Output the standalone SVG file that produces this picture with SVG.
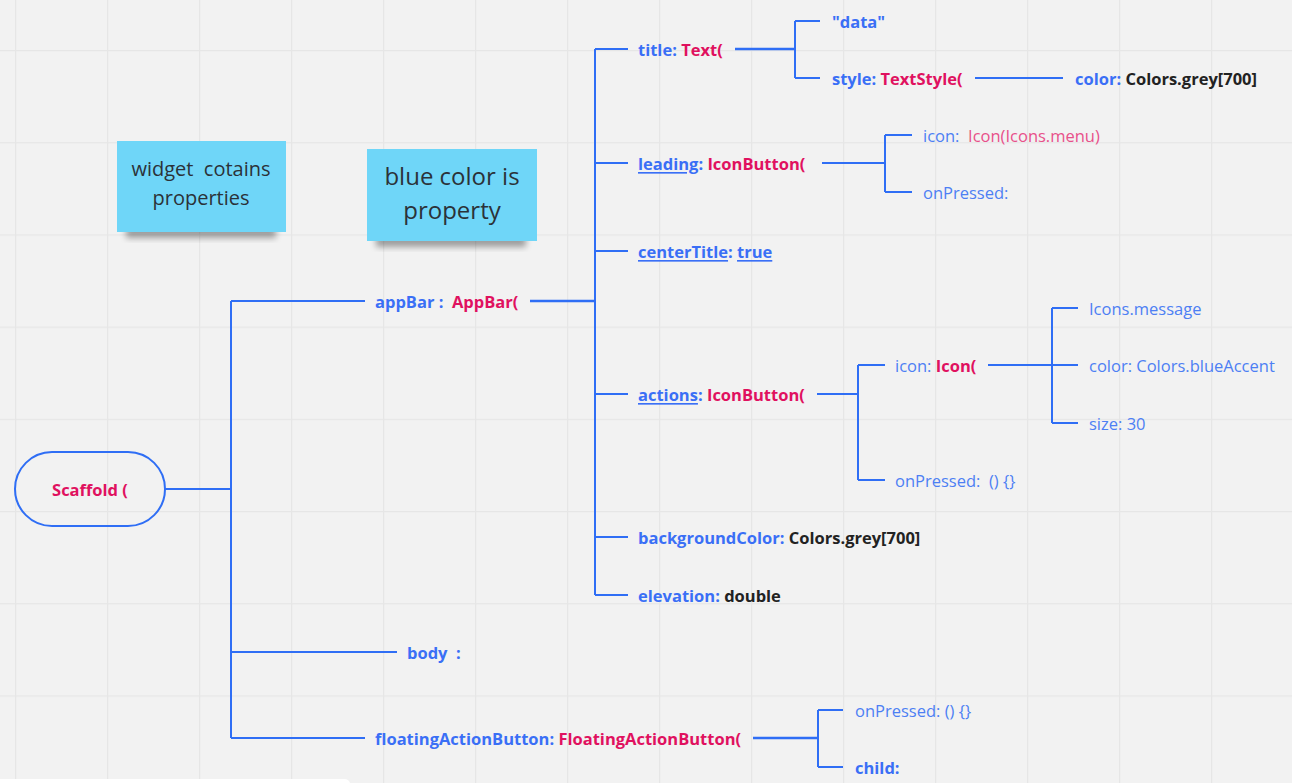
<svg xmlns="http://www.w3.org/2000/svg" width="1292" height="783" viewBox="0 0 1292 783">
<defs>
<pattern id="grid" x="15" y="50" width="92" height="92.2" patternUnits="userSpaceOnUse">
<path d="M0.5 0V92.2M0 0.5H92" stroke="#e6e6e6" stroke-width="1.5" fill="none"/>
</pattern>
<filter id="shadow" x="-20%" y="-20%" width="140%" height="160%">
<feGaussianBlur stdDeviation="3"/>
</filter>
</defs>
<style>
.bg{fill:#f2f2f2}
.ln{stroke:#2f6ef5;stroke-width:2;fill:none}
.lt{stroke:#2f6ef5;stroke-width:2.5;fill:none}
text{font-family:"Open Sans","Noto Sans","Liberation Sans",sans-serif;font-size:16.5px;dominant-baseline:central;white-space:pre}
.b{font-weight:700}
.blue{fill:#3a6ff6}
.pink{fill:#e0115f}
.lpink{fill:#e8508a}
.lblue{fill:#4d7ff4}
.blk{fill:#222}
.u{text-decoration:underline}
.note{fill:#6fd6f8}
.ntxt{fill:#2b3238;text-anchor:middle}
.n1{font-size:20px}
.n2{font-size:24px}
</style>
<rect class="bg" width="1292" height="783"/>
<rect fill="url(#grid)" width="1292" height="783"/>
<path d="M0 779H344a6 6 0 0 1 6 4H0Z" fill="#ffffff"/>

<g id="note-widget">
<rect x="126" y="226" width="150" height="12" fill="#000" opacity="0.35" filter="url(#shadow)"/>
<rect class="note" x="117" y="141" width="169" height="91"/>
<text class="ntxt n1" x="201" y="168">widget  cotains</text>
<text class="ntxt n1" x="201" y="197">properties</text>
</g>
<g id="note-blue">
<rect x="376" y="235" width="150" height="12" fill="#000" opacity="0.35" filter="url(#shadow)"/>
<rect class="note" x="367" y="149" width="170" height="92"/>
<text class="ntxt n2" x="452" y="175">blue color is</text>
<text class="ntxt n2" x="452" y="209">property</text>
</g>

<g id="connectors">
<path class="ln" d="M165 489H231M231 301V738M231 301H365M231 652H397M231 738H365"/>
<path class="lt" d="M530 301H595"/>
<path class="ln" d="M595 49V595M595 49H628M595 163H628M595 251H628M595 394H628M595 537H628M595 595H628"/>
<path class="lt" d="M735 49H795"/>
<path class="ln" d="M795 21V78M795 21H820M795 78H820"/>
<path class="ln" d="M975 78H1063"/>
<path class="ln" d="M822 163H885M885 135V192M885 135H912M885 192H912"/>
<path class="ln" d="M817 394H858M858 365V480M858 365H885M858 480H885"/>
<path class="ln" d="M988 365H1052M1052 308V423M1052 308H1078M1052 365H1078M1052 423H1078"/>
<path class="lt" d="M753 738H818"/>
<path class="ln" d="M818 710V767M818 710H843M818 767H843"/>
</g>

<g id="scaffold">
<rect x="15" y="452" width="150" height="74" rx="37" fill="none" stroke="#2f6ef5" stroke-width="2"/>
<text class="b pink" x="90" y="489" text-anchor="middle">Scaffold (</text>
</g>

<g id="appBar"><text x="375" y="301" class="b"><tspan class="blue">appBar :  </tspan><tspan class="pink">AppBar(</tspan></text></g>
<g id="body"><text x="407" y="652" class="b blue">body  :</text></g>
<g id="fab"><text x="375" y="738" class="b"><tspan class="blue">floatingActionButton: </tspan><tspan class="pink">FloatingActionButton(</tspan></text></g>

<g id="title"><text x="638" y="49" class="b"><tspan class="blue">title: </tspan><tspan class="pink">Text(</tspan></text></g>
<g id="data"><text x="832" y="21" class="b blue">"data"</text></g>
<g id="style"><text x="832" y="78" class="b"><tspan class="blue">style: </tspan><tspan class="pink">TextStyle(</tspan></text></g>
<g id="color-grey"><text x="1075" y="78"><tspan class="b blue">color: </tspan><tspan class="b blk">Colors.grey[700]</tspan></text></g>

<g id="leading"><text x="638" y="163" class="b"><tspan class="blue u">leading</tspan><tspan class="blue">: </tspan><tspan class="pink">IconButton(</tspan></text></g>
<g id="leading-icon"><text x="923" y="135"><tspan class="lblue">icon:  </tspan><tspan class="lpink">Icon(Icons.menu)</tspan></text></g>
<g id="leading-onpressed"><text x="923" y="192" class="lblue">onPressed:</text></g>

<g id="centerTitle"><text x="638" y="251" class="b blue"><tspan class="u">centerTitle</tspan>: <tspan class="u">true</tspan></text></g>

<g id="actions"><text x="638" y="394" class="b"><tspan class="blue u">actions</tspan><tspan class="blue">: </tspan><tspan class="pink">IconButton(</tspan></text></g>
<g id="actions-icon"><text x="895" y="365"><tspan class="lblue">icon: </tspan><tspan class="b pink">Icon(</tspan></text></g>
<g id="actions-onpressed"><text x="895" y="480" class="lblue">onPressed:  () {}</text></g>
<g id="icons-message"><text x="1089" y="308" class="lblue">Icons.message</text></g>
<g id="icon-color"><text x="1089" y="365" class="lblue">color: Colors.blueAccent</text></g>
<g id="icon-size"><text x="1089" y="423" class="lblue">size: 30</text></g>

<g id="backgroundColor"><text x="638" y="537"><tspan class="b blue">backgroundColor: </tspan><tspan class="b blk">Colors.grey[700]</tspan></text></g>
<g id="elevation"><text x="638" y="595"><tspan class="b blue">elevation: </tspan><tspan class="b blk">double</tspan></text></g>

<g id="fab-onpressed"><text x="855" y="710" class="lblue">onPressed: () {}</text></g>
<g id="fab-child"><text x="855" y="767" class="b blue">child:</text></g>
</svg>
